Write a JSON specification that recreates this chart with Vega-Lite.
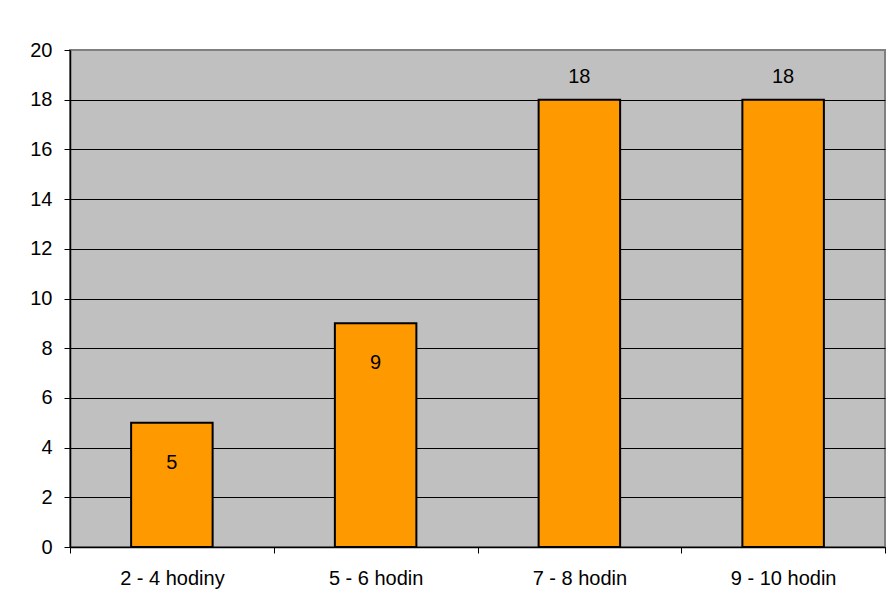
{
  "$schema": "https://vega.github.io/schema/vega-lite/v6.json",
  "width": 815,
  "height": 497,
  "autosize": {"type": "none"},
  "padding": {"left": 70, "top": 50, "right": 6, "bottom": 61},
  "background": "white",
  "data": {
    "values": [
      {"kategorie": "2 - 4 hodiny", "pocet": 5},
      {"kategorie": "5 - 6 hodin", "pocet": 9},
      {"kategorie": "7 - 8 hodin", "pocet": 18},
      {"kategorie": "9 - 10 hodin", "pocet": 18}
    ]
  },
  "config": {
    "font": "Liberation Sans",
    "view": {"fill": "#C0C0C0", "stroke": "#808080", "strokeWidth": 2},
    "axis": {
      "labelFont": "Liberation Sans",
      "labelFontSize": 20,
      "labelColor": "black",
      "domainColor": "black",
      "tickColor": "black",
      "title": null
    }
  },
  "encoding": {
    "x": {
      "field": "kategorie",
      "type": "nominal",
      "sort": null,
      "scale": {"paddingInner": 0, "paddingOuter": 0},
      "axis": {
        "labelAngle": 0,
        "tickBand": "extent",
        "tickSize": 6,
        "labelPadding": 15,
        "domainWidth": 1.5,
        "grid": false
      }
    },
    "y": {
      "field": "pocet",
      "type": "quantitative",
      "scale": {"domain": [0, 20], "nice": false},
      "axis": {
        "values": [0, 2, 4, 6, 8, 10, 12, 14, 16, 18, 20],
        "tickSize": 6,
        "labelPadding": 12,
        "domainWidth": 1.5,
        "grid": true,
        "gridColor": {"condition": {"test": "datum.value == 20", "value": "#808080"}, "value": "black"},
        "gridOpacity": 1,
        "gridWidth": 1
      }
    }
  },
  "layer": [
    {
      "mark": {"type": "bar", "width": {"band": 0.4}, "color": "#FF9900", "stroke": "black", "strokeWidth": 2}
    },
    {
      "transform": [{"filter": "datum.pocet < 10"}],
      "mark": {"type": "text", "fontSize": 20, "baseline": "middle", "dy": 40, "color": "black"},
      "encoding": {"text": {"field": "pocet", "type": "quantitative"}}
    },
    {
      "transform": [{"filter": "datum.pocet >= 10"}],
      "mark": {"type": "text", "fontSize": 20, "baseline": "middle", "dy": -23, "color": "black"},
      "encoding": {"text": {"field": "pocet", "type": "quantitative"}}
    }
  ]
}
